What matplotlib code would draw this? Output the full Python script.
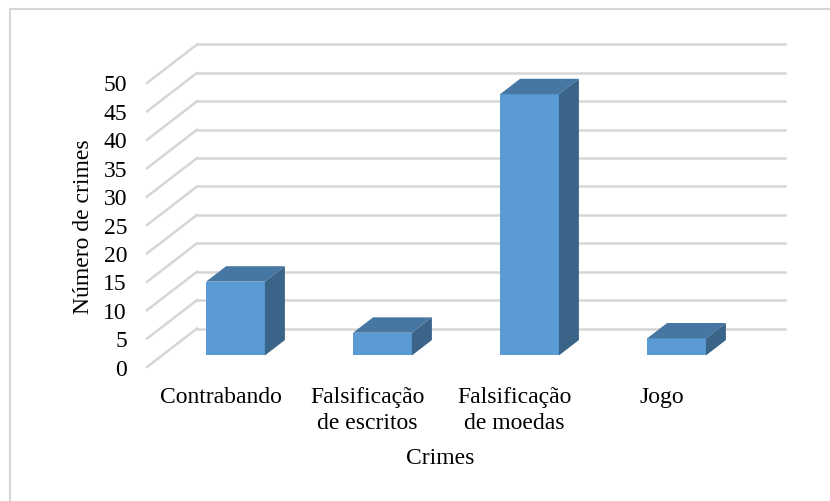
import matplotlib
matplotlib.use('Agg')
import matplotlib.pyplot as plt
from matplotlib.patches import Polygon, Rectangle
from matplotlib.transforms import offset_copy

categorias = ['Contrabando', 'Falsificação\nde escritos', 'Falsificação\nde moedas', 'Jogo']
valores = [13, 4, 46, 3]
ticks_y = list(range(0, 51, 5))

plt.rcParams['font.family'] = 'serif'
plt.rcParams['font.serif'] = ['Liberation Serif']
TAILLE = 17

fig = plt.figure(figsize=(8.3, 5.01), dpi=100)
ax = fig.add_axes([147 / 830, 134 / 501, 588 / 830, 284 / 501])
ax.set_xlim(0, len(categorias))
ax.set_ylim(0, 50)
ax.axis('off')

# décalage de profondeur (pixels) converti en unités de données
px_x = 588 / len(categorias)
px_y = 284 / 50
DX = 50 / px_x
DY = 38.5 / px_y

gris = '#d6d6d6'
for v in ticks_y:
    # mur du fond
    ax.plot([DX, len(categorias) + DX], [v + DY, v + DY], color=gris, lw=1.8, clip_on=False, zorder=1)
    # mur de gauche
    ax.plot([0, DX], [v, v + DY], color=gris, lw=1.8, clip_on=False, zorder=1)
    ax.text(0, v, str(v), transform=offset_copy(ax.transData, fig=fig, x=-20, y=-3, units='dots'),
            ha='right', va='center', fontsize=TAILLE)

# barres 3D
largeur = 0.4
d0, d1 = 0.3, 0.7
c_face, c_haut, c_cote = '#5b9bd5', '#4677a3', '#3b6489'
for i, v in enumerate(valores):
    x0 = i + 0.5 - largeur / 2
    x1 = x0 + largeur
    ox, oy = d0 * DX, d0 * DY
    ex, ey = (d1 - d0) * DX, (d1 - d0) * DY
    face = Rectangle((x0 + ox, oy), largeur, v, facecolor=c_face, edgecolor='none', clip_on=False, zorder=3)
    haut = Polygon([(x0 + ox, v + oy), (x1 + ox, v + oy), (x1 + ox + ex, v + oy + ey), (x0 + ox + ex, v + oy + ey)],
                   closed=True, facecolor=c_haut, edgecolor='none', clip_on=False, zorder=3)
    cote = Polygon([(x1 + ox, oy), (x1 + ox + ex, oy + ey), (x1 + ox + ex, v + oy + ey), (x1 + ox, v + oy)],
                   closed=True, facecolor=c_cote, edgecolor='none', clip_on=False, zorder=3)
    ax.add_patch(face)
    ax.add_patch(haut)
    ax.add_patch(cote)
    ax.text(i + 0.5, 0, categorias[i], transform=offset_copy(ax.transData, fig=fig, x=0, y=-20, units='dots'),
            ha='center', va='top', fontsize=TAILLE, linespacing=1.3)

fig.text(440 / 830, 1 - 459 / 501, 'Crimes', ha='center', va='center', fontsize=TAILLE)
fig.text(83 / 830, 1 - 227 / 501, 'Número de crimes', rotation=90, ha='center', va='center', fontsize=TAILLE)

# cadre du graphique (coupé à droite et en bas)
fig.patches.append(Rectangle((9.5 / 830, -0.05), 1.1, 491.5 / 501 + 0.05, transform=fig.transFigure,
                             fill=False, edgecolor=gris, lw=1.5))

fig.savefig('out.png', dpi=100)
